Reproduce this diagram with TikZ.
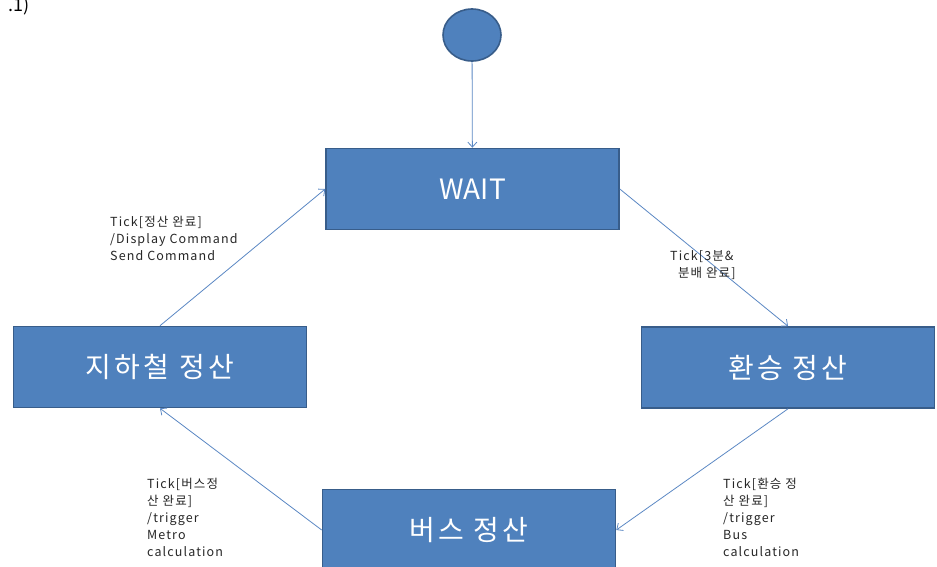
\documentclass[tikz,border=0pt]{standalone}
\usepackage{fontspec}
\setmainfont{Noto Sans CJK KR}
\newfontfamily\widekr[LetterSpace=12]{Noto Sans CJK KR}
\newfontfamily\guardfont[LetterSpace=9]{Noto Sans CJK KR}
\usetikzlibrary{positioning, arrows.meta, shapes.geometric}
\definecolor{stateblue}{RGB}{79,129,189}
\definecolor{stateedge}{RGB}{56,93,138}
\definecolor{linkblue}{RGB}{90,135,195}

\begin{document}
\begin{tikzpicture}[
  x=1pt, y=-1pt,
  state/.style={draw=stateedge, line width=1.6pt, fill=stateblue, minimum width=293pt,
                minimum height=81pt, text=white, font=\fontsize{28}{32}\selectfont},
  guard/.style={align=left, anchor=north west, inner sep=0pt, text=black!85,
                font=\guardfont\fontsize{12.5}{17}\selectfont},
  arrow/.style={-{Straight Barb[length=5pt, width=9pt]}, linkblue, line width=0.8pt}
]
  \useasboundingbox (0,0) rectangle (937,566);

  % fragment of the caption at the top corner
  \node[anchor=base east, inner sep=0pt, font=\fontsize{18}{20}\selectfont] (cap) at (30,11) {.1)};

  \node[ellipse, draw=stateedge, line width=1.6pt, fill=stateblue,
        minimum width=58pt, minimum height=52pt] (init) at (472,35) {};
  \node[state] (wait) at (472.5,189) {WAIT};
  \node[state] (metro) at (160,367) {\widekr 지하철 정산};
  \node[state] (transfer) at (788,367.5) {\widekr 환승 정산};
  \node[state] (bus) at (469,530) {\widekr 버스 정산};

  \draw[arrow] (init) -- (wait);
  \draw[arrow] (metro.north) -- (wait.west);
  \draw[arrow] (wait.east) -- (transfer.north);
  \draw[arrow] (transfer.south) -- (bus.east);
  \draw[arrow] (bus.west) -- (metro.south);

  \node[guard] (g1) at (110,216) {Tick[정산 완료]\\/Display Command\\Send Command};
  \node[guard] (g2) at (670,250) {Tick[3분\&\\\ \ 분배 완료]};
  \node[guard] (g3) at (147,478) {Tick[버스정\\산 완료]\\/trigger\\Metro\\calculation};
  \node[guard] (g4) at (723,478) {Tick[환승 정\\산 완료]\\/trigger\\Bus\\calculation};
\end{tikzpicture}
\end{document}
